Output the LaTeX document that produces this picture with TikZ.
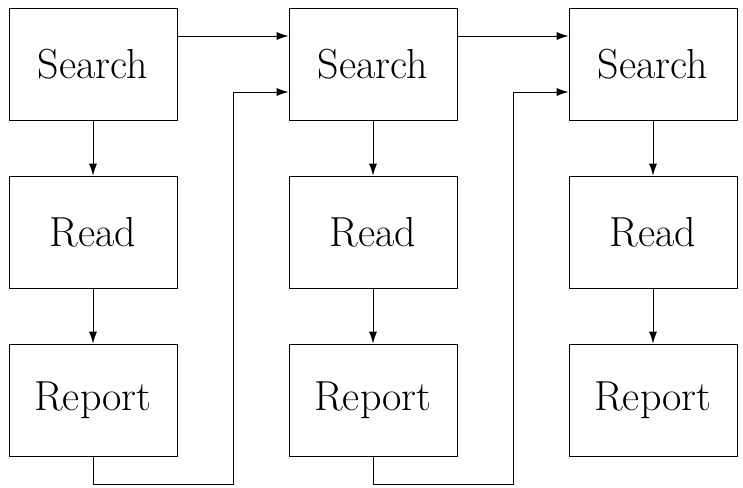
\documentclass[tikz,border=0pt]{standalone}
\usetikzlibrary{arrows.meta}
\begin{document}
\begin{tikzpicture}[x=1pt,y=-1pt,
  stage/.style={draw,line width=0.8pt,minimum width=168pt,minimum height=112pt,
    inner sep=0pt,font=\fontsize{42}{50}\selectfont},
  flow/.style={draw,line width=0.8pt,-{Latex[length=12pt,width=8pt]}}]
  \useasboundingbox (0,0) rectangle (743,487);
  \foreach \c/\x in {1/93,2/373,3/653}{
    \node[stage] (s\c) at (\x,64) {Search};
    \node[stage] (r\c) at (\x,232) {Read};
    \node[stage] (p\c) at (\x,400) {Report};
    \draw[flow] (s\c) -- (r\c);
    \draw[flow] (r\c) -- (p\c);
  }
  \foreach \a/\b/\m in {1/2/233,2/3/513}{
    \coordinate (t\b) at ([yshift=28pt]s\b.west);
    \coordinate (l\b) at ([yshift=-28pt]s\b.west);
    \draw[flow] (s\a.east |- t\b) -- (t\b);
    \draw[flow] (p\a.south) -- ++(0,28) -| (\m,92) -- (l\b);
  }
\end{tikzpicture}
\end{document}
